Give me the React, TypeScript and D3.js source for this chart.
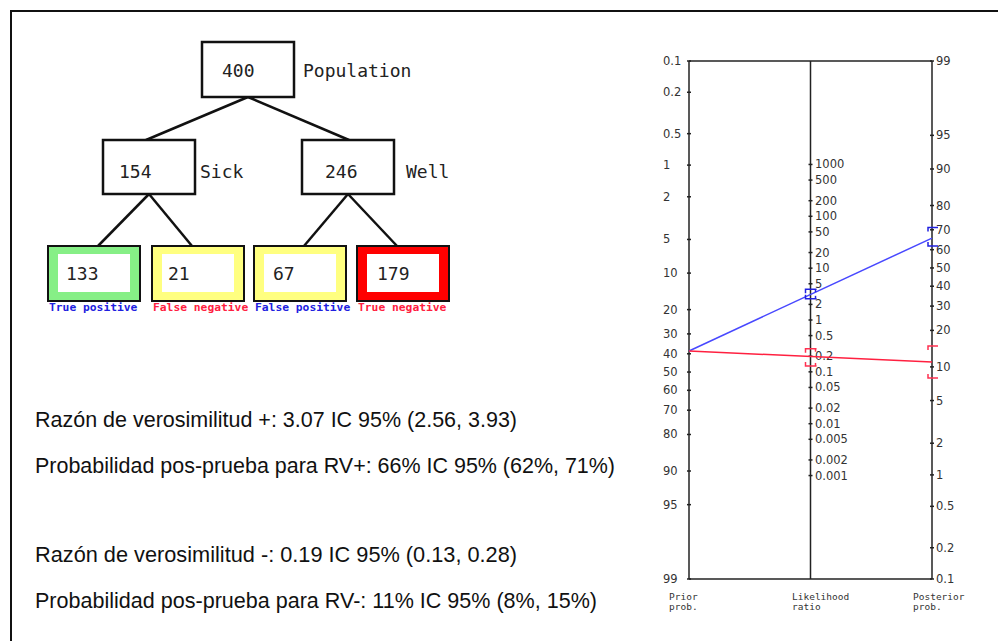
import * as d3 from "d3";

// tree counts
const rootCount = 400;
const groupCounts = [154, 246];
const groupNames = ["Sick", "Well"];
const leafCounts = [133, 21, 67, 179];
const leafNames = ["True positive", "False negative", "False positive", "True negative"];

// nomogram values
const priorPct = 38.5;
const lrPoint = [3.07, 0.19];
const lrLow = [2.56, 0.13];
const lrHigh = [3.93, 0.28];
const postPoint = [66, 11];
const postLow = [62, 8];
const postHigh = [71, 15];

const probTicks = [0.1, 0.2, 0.5, 1, 2, 5, 10, 20, 30, 40, 50, 60, 70, 80, 90, 95, 99];
const lrTicks = [1000, 500, 200, 100, 50, 20, 10, 5, 2, 1, 0.5, 0.2, 0.1, 0.05, 0.02, 0.01, 0.005, 0.002, 0.001];

const summaryLines = [
  "Razón de verosimilitud +: 3.07 IC 95% (2.56, 3.93)",
  "Probabilidad pos-prueba para RV+: 66% IC 95% (62%, 71%)",
  "Razón de verosimilitud -: 0.19 IC 95% (0.13, 0.28)",
  "Probabilidad pos-prueba para RV-: 11% IC 95% (8%, 15%)",
];

const logit = (pct: number) => Math.log(pct / 100 / (1 - pct / 100));

// layout
const W = 998;
const H = 641;
const mono = "'DejaVu Sans Mono', monospace";
const leafColors = ["#86ef86", "#ffff80", "#ffff80", "#ff0000"];
const labelColors = ["#2020e0", "#ff2040", "#2020e0", "#ff2040"];
const lineColors = ["#4848ff", "#ff2040"];
const ciColors = ["#2020e0", "#ff3050"];
const summaryY = [427, 473, 562, 608];
const summaryW = [482, 580, 482, 562];

const xL = 689;
const xM = 810.5;
const xR = 932;
const yTop = 61;
const yBot = 579;

export default function App() {
  const left = d3.scaleLinear().domain([logit(0.1), logit(99)]).range([yTop, yBot]);
  const right = d3.scaleLinear().domain([logit(99), logit(0.1)]).range([yTop, yBot]);
  // middle axis sits halfway, log(LR) at half the slope of the side axes
  const mid0 = (left(0) + right(0)) / 2;
  const k = (yBot - yTop) / (logit(99) - logit(0.1)) / 2;
  const middle = d3
    .scaleLog()
    .domain([1000, 0.001])
    .range([mid0 - k * Math.log(1000), mid0 + k * Math.log(1000)]);

  const rootBox = { x: 202, y: 42, w: 92, h: 55, tx: 20 };
  const groupBoxes = [
    { x: 103, y: 140, w: 92, h: 54, tx: 16 },
    { x: 302, y: 140, w: 92, h: 54, tx: 23 },
  ];
  const leafX = [48, 152, 254, 357];
  const leafTx = [18, 16, 19, 20];
  const leafY = 246;
  const leafW = 92;
  const leafH = 55;

  const bracket = (x: number, y: number, dir: number, w1: number, w2: number) =>
    `M${x - w1},${y + dir * 4} L${x - w1},${y} L${x + w2},${y}`;

  return (
    <svg
      width={W}
      height={H}
      style={{ position: "absolute", left: 0, top: 0, background: "#fff" }}
    >
      <rect x={11} y={11} width={1100} height={800} fill="#fff" stroke="#111" strokeWidth={2} />

      {/* tree connectors */}
      <g stroke="#111" strokeWidth={2.5} fill="none">
        {groupBoxes.map((b, i) => (
          <line key={"r" + i} x1={rootBox.x + rootBox.w / 2} y1={rootBox.y + rootBox.h} x2={b.x + b.w / 2 - 3 + i * 4} y2={b.y} />
        ))}
        {leafX.map((lx, i) => {
          const g = groupBoxes[Math.floor(i / 2)];
          return <line key={"l" + i} x1={g.x + g.w / 2} y1={g.y + g.h} x2={i % 2 === 0 ? lx + 50 : lx + 40} y2={leafY} />;
        })}
      </g>

      <rect x={rootBox.x} y={rootBox.y} width={rootBox.w} height={rootBox.h} fill="#fff" stroke="#111" strokeWidth={2.5} />
      <text x={rootBox.x + rootBox.tx} y={rootBox.y + 35} fontFamily={mono} fontSize={18} fill="#222">{rootCount}</text>
      <text x={303} y={rootBox.y + 35} fontFamily={mono} fontSize={18} fill="#222">Population</text>

      {groupBoxes.map((b, i) => (
        <g key={"g" + i}>
          <rect x={b.x} y={b.y} width={b.w} height={b.h} fill="#fff" stroke="#111" strokeWidth={2.5} />
          <text x={b.x + b.tx} y={b.y + 38} fontFamily={mono} fontSize={18} fill="#222">{groupCounts[i]}</text>
          <text x={b.x + b.w + 5 + i * 7} y={b.y + 38} fontFamily={mono} fontSize={18} fill="#222">{groupNames[i]}</text>
        </g>
      ))}

      {leafX.map((lx, i) => (
        <g key={"leaf" + i}>
          <rect x={lx} y={leafY} width={leafW} height={leafH} fill={leafColors[i]} stroke="#111" strokeWidth={2} />
          <rect x={lx + 10} y={leafY + 8} width={leafW - 20} height={leafH - 17} fill="#fff" />
          <text x={lx + leafTx[i]} y={leafY + 34} fontFamily={mono} fontSize={18} fill="#222">{leafCounts[i]}</text>
          <text x={lx + 1} y={leafY + 65} fontFamily={mono} fontSize={11.3} fontWeight="bold" fill={labelColors[i]}>{leafNames[i]}</text>
        </g>
      ))}

      {/* summary text */}
      {summaryLines.map((t, i) => (
        <text
          key={"s" + i}
          x={35}
          y={summaryY[i]}
          fontFamily="'Liberation Sans', Arial, sans-serif"
          fontSize={22.5}
          textLength={summaryW[i]}
          lengthAdjust="spacingAndGlyphs"
          fill="#111"
        >
          {t}
        </text>
      ))}

      {/* nomogram frame */}
      <g stroke="#222" strokeWidth={1.5} fill="none">
        <line x1={xL} y1={yTop} x2={xR} y2={yTop} />
        <line x1={xL} y1={yBot} x2={xR} y2={yBot} />
        <line x1={xL} y1={yTop} x2={xL} y2={yBot} />
        <line x1={xM} y1={yTop} x2={xM} y2={yBot} />
        <line x1={xR} y1={yTop} x2={xR} y2={yBot} />
      </g>

      {/* left axis */}
      {probTicks.map((t) => (
        <g key={"pl" + t}>
          <line x1={xL - 2} x2={xL + 2} y1={left(logit(t))} y2={left(logit(t))} stroke="#222" strokeWidth={1.5} />
          <text x={663} y={left(logit(t)) + 4} fontFamily="'DejaVu Sans', sans-serif" fontSize={11.5} fill="#333">{t}</text>
        </g>
      ))}
      {/* middle axis */}
      {lrTicks.map((t) => (
        <g key={"lr" + t}>
          <line x1={xM - 2} x2={xM + 2} y1={middle(t)} y2={middle(t)} stroke="#222" strokeWidth={1.5} />
          <text x={815} y={middle(t) + 4} fontFamily="'DejaVu Sans', sans-serif" fontSize={11.5} fill="#333">{t}</text>
        </g>
      ))}
      {/* right axis */}
      {probTicks.map((t) => (
        <g key={"pr" + t}>
          <line x1={xR - 2} x2={xR + 2} y1={right(logit(t))} y2={right(logit(t))} stroke="#222" strokeWidth={1.5} />
          <text x={936} y={right(logit(t)) + 4} fontFamily="'DejaVu Sans', sans-serif" fontSize={11.5} fill="#333">{t}</text>
        </g>
      ))}

      {/* result lines and confidence brackets */}
      {lrPoint.map((lr, i) => (
        <g key={"res" + i}>
          <line x1={xL} y1={left(logit(priorPct))} x2={xR} y2={right(logit(postPoint[i]))} stroke={lineColors[i]} strokeWidth={1.5} />
          <g stroke={ciColors[i]} strokeWidth={1.5} fill="none">
            <path d={bracket(xM, middle(lrHigh[i]), 1, 5, 6)} />
            <path d={bracket(xM, middle(lrLow[i]), -1, 5, 6)} />
            <line x1={xM + 5} x2={xM + 5} y1={middle(lrHigh[i])} y2={middle(lrHigh[i]) + 3} />
            <line x1={xM + 5} x2={xM + 5} y1={middle(lrLow[i])} y2={middle(lrLow[i]) - 3} />
            <path d={bracket(xR, right(logit(postHigh[i])), 1, 4, 6)} />
            <path d={bracket(xR, right(logit(postLow[i])), -1, 4, 6)} />
          </g>
        </g>
      ))}

      {/* axis titles */}
      <g fontFamily={mono} fontSize={9.5} fill="#333">
        <text x={669} y={600}>Prior</text>
        <text x={669} y={610}>prob.</text>
        <text x={792} y={600}>Likelihood</text>
        <text x={792} y={610}>ratio</text>
        <text x={913} y={600}>Posterior</text>
        <text x={913} y={610}>prob.</text>
      </g>
    </svg>
  );
}
